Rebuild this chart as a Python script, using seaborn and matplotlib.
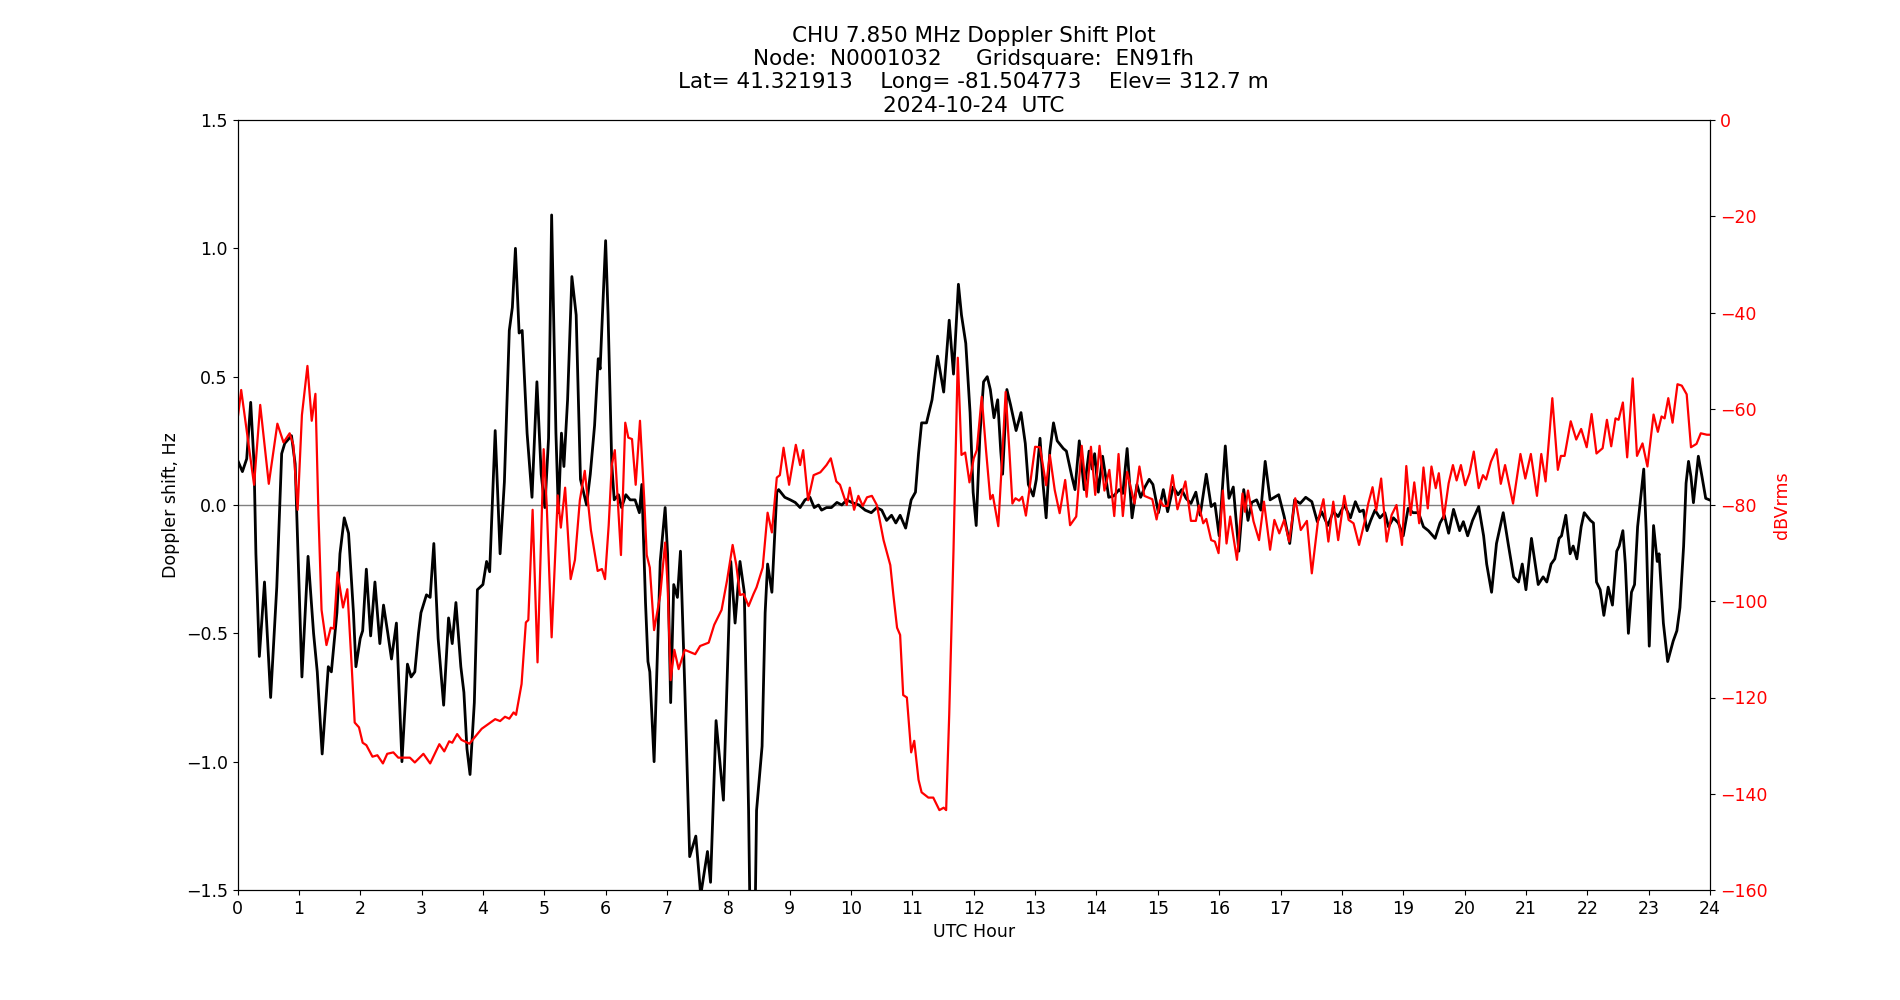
import matplotlib
matplotlib.use("Agg")
import matplotlib.pyplot as plt
import seaborn as sns
import pandas as pd

# ---- Doppler shift (black), hours and Hz ----
doppler_hours = [
    0.01, 0.08, 0.15, 0.215, 0.27, 0.30, 0.356, 0.44, 0.54, 0.64, 0.72, 0.77, 0.88, 0.94, 0.99,
    1.05, 1.15, 1.24, 1.30, 1.38, 1.48, 1.53, 1.62, 1.67, 1.74, 1.81, 1.89, 1.93, 2.00, 2.04,
    2.10, 2.17, 2.24, 2.32, 2.38, 2.45, 2.51, 2.59, 2.68, 2.77, 2.83, 2.89, 2.95, 2.99, 3.08,
    3.14, 3.20, 3.27, 3.36, 3.44, 3.50, 3.56, 3.64, 3.69, 3.74, 3.79, 3.86, 3.91, 4.00, 4.06,
    4.11, 4.20, 4.28, 4.35, 4.43, 4.48, 4.53, 4.59, 4.64, 4.72, 4.80, 4.88, 4.95, 5.01, 5.07,
    5.12, 5.19, 5.23, 5.28, 5.32, 5.38, 5.45, 5.52, 5.59, 5.69, 5.75, 5.82, 5.88, 5.91, 6.00,
    6.04, 6.10, 6.14, 6.21, 6.26, 6.33, 6.40, 6.48, 6.55, 6.59, 6.65, 6.69, 6.72, 6.79, 6.89,
    6.97, 7.01, 7.06, 7.11, 7.17, 7.22, 7.29, 7.37, 7.47, 7.55, 7.66, 7.71, 7.80, 7.92, 8.04,
    8.11, 8.19, 8.26, 8.33, 8.37, 8.42, 8.46, 8.55, 8.60, 8.64, 8.71, 8.79, 8.82, 8.92, 9.01,
    9.09, 9.17, 9.25, 9.33, 9.40, 9.47, 9.52, 9.60, 9.68, 9.77, 9.85, 9.93, 10.01, 10.13, 10.23,
    10.33, 10.42, 10.50, 10.58, 10.66, 10.73, 10.80, 10.89, 10.98, 11.05, 11.10, 11.15, 11.23,
    11.32, 11.41, 11.51, 11.60, 11.67, 11.75, 11.80, 11.87, 11.94, 11.99, 12.04, 12.10, 12.16,
    12.22, 12.27, 12.33, 12.39, 12.44, 12.47, 12.54, 12.60, 12.69, 12.77, 12.84, 12.89, 12.97,
    13.02, 13.08, 13.13, 13.18, 13.24, 13.30, 13.36, 13.46, 13.51, 13.60, 13.65, 13.72, 13.80,
    13.88, 13.93, 13.97, 14.03, 14.10, 14.20, 14.28, 14.37, 14.43, 14.50, 14.58, 14.66, 14.72,
    14.79, 14.86, 14.92, 15.01, 15.09, 15.16, 15.25, 15.33, 15.39, 15.46, 15.54, 15.62, 15.69,
    15.79, 15.87, 15.93, 16.00, 16.10, 16.16, 16.23, 16.32, 16.40, 16.47, 16.53, 16.61, 16.68,
    16.75, 16.83, 16.97, 17.06, 17.15, 17.23, 17.32, 17.41, 17.51, 17.60, 17.67, 17.77, 17.86,
    17.94, 18.04, 18.14, 18.22, 18.29, 18.35, 18.41, 18.47, 18.54, 18.62, 18.70, 18.76, 18.84,
    18.92, 19.00, 19.08, 19.16, 19.25, 19.33, 19.41, 19.52, 19.60, 19.67, 19.74, 19.82, 19.92,
    19.98, 20.05, 20.13, 20.23, 20.31, 20.36, 20.44, 20.52, 20.63, 20.71, 20.80, 20.88, 20.94,
    21.00, 21.09, 21.20, 21.28, 21.34, 21.41, 21.47, 21.54, 21.58, 21.65, 21.72, 21.77, 21.83,
    21.90, 21.95, 22.05, 22.10, 22.15, 22.21, 22.27, 22.34, 22.41, 22.48, 22.52, 22.58, 22.62,
    22.67, 22.72, 22.77, 22.82, 22.86, 22.92, 22.96, 23.01, 23.08, 23.14, 23.17, 23.24, 23.31,
    23.40, 23.46, 23.51, 23.57, 23.61, 23.65, 23.69, 23.73, 23.81, 23.87, 23.93, 23.99,
]
doppler_hz = [
    0.17, 0.13, 0.18, 0.40, 0.16, -0.19, -0.59, -0.30, -0.75, -0.32, 0.20, 0.24, 0.27, 0.16, -0.22,
    -0.67, -0.20, -0.50, -0.65, -0.97, -0.63, -0.65, -0.42, -0.19, -0.05, -0.11, -0.42, -0.63, -0.52, -0.49,
    -0.25, -0.51, -0.30, -0.54, -0.39, -0.50, -0.60, -0.46, -1.00, -0.62, -0.67, -0.65, -0.50, -0.42, -0.35,
    -0.36, -0.15, -0.52, -0.78, -0.44, -0.54, -0.38, -0.63, -0.73, -0.95, -1.05, -0.77, -0.33, -0.31, -0.22,
    -0.26, 0.29, -0.19, 0.09, 0.68, 0.77, 1.00, 0.67, 0.68, 0.28, 0.03, 0.48, 0.12, -0.01, 0.26,
    1.13, 0.28, -0.03, 0.28, 0.15, 0.41, 0.89, 0.74, 0.10, 0.00, 0.12, 0.31, 0.57, 0.53, 1.03,
    0.74, 0.16, 0.02, 0.04, -0.01, 0.04, 0.02, 0.02, -0.03, 0.08, -0.38, -0.61, -0.65, -1.00, -0.22,
    -0.01, -0.19, -0.77, -0.31, -0.36, -0.18, -0.71, -1.37, -1.29, -1.52, -1.35, -1.47, -0.84, -1.15, -0.22,
    -0.46, -0.22, -0.34, -1.19, -1.90, -1.90, -1.19, -0.94, -0.42, -0.23, -0.34, 0.05, 0.06, 0.03, 0.02,
    0.01, -0.01, 0.02, 0.03, -0.01, 0.00, -0.02, -0.01, -0.01, 0.01, 0.00, 0.02, 0.01, 0.00, -0.02,
    -0.03, -0.01, -0.02, -0.06, -0.04, -0.07, -0.04, -0.09, 0.02, 0.05, 0.20, 0.32, 0.32,
    0.41, 0.58, 0.44, 0.72, 0.51, 0.86, 0.74, 0.63, 0.36, 0.05, -0.08, 0.27, 0.48,
    0.50, 0.45, 0.34, 0.41, 0.21, 0.12, 0.45, 0.39, 0.29, 0.36, 0.24, 0.08, 0.035,
    0.10, 0.26, 0.08, -0.05, 0.21, 0.32, 0.25, 0.22, 0.21, 0.11, 0.06, 0.25, 0.06,
    0.21, 0.14, 0.20, 0.05, 0.19, 0.03, 0.035, 0.06, 0.045, 0.22, -0.05, 0.08, 0.03,
    0.07, 0.10, 0.08, -0.03, 0.06, -0.026, 0.07, 0.04, 0.06, 0.026, 0.006, 0.05, -0.04,
    0.12, -0.006, 0.006, -0.12, 0.23, 0.026, 0.07, -0.18, 0.06, -0.06, 0.01, 0.02, -0.02,
    0.17, 0.02, 0.04, -0.045, -0.15, 0.02, 0.006, 0.03, 0.013, -0.065, -0.026, -0.08, -0.026,
    -0.045, 0.0, -0.05, 0.013, -0.026, -0.02, -0.10, -0.06, -0.02, -0.05, -0.03, -0.085, -0.05,
    -0.07, -0.12, -0.013, -0.03, -0.03, -0.085, -0.10, -0.13, -0.07, -0.04, -0.11, -0.017, -0.10,
    -0.065, -0.12, -0.06, -0.006, -0.12, -0.23, -0.34, -0.15, -0.03, -0.15, -0.28, -0.30, -0.23,
    -0.33, -0.13, -0.31, -0.28, -0.30, -0.23, -0.21, -0.13, -0.12, -0.04, -0.19, -0.16, -0.21,
    -0.085, -0.03, -0.06, -0.07, -0.30, -0.33, -0.43, -0.32, -0.39, -0.18, -0.16, -0.10, -0.23,
    -0.50, -0.34, -0.31, -0.085, 0.006, 0.14, -0.10, -0.55, -0.08, -0.22, -0.19, -0.46, -0.61,
    -0.53, -0.49, -0.40, -0.16, 0.085, 0.17, 0.11, 0.009, 0.19, 0.11, 0.026, 0.02,
]

# ---- Signal level (red), hours and dBVrms ----
level_hours = [
    0.01, 0.06, 0.27, 0.37, 0.51, 0.65, 0.75, 0.85, 0.91, 0.98, 1.05, 1.14, 1.21, 1.27, 1.32,
    1.37, 1.45, 1.52, 1.57, 1.63, 1.72, 1.79, 1.86, 1.91, 1.98, 2.04, 2.10, 2.20, 2.28, 2.37,
    2.44, 2.54, 2.62, 2.71, 2.81, 2.89, 3.03, 3.14, 3.29, 3.37, 3.45, 3.50, 3.58, 3.65, 3.78,
    3.98, 4.20, 4.28, 4.36, 4.43, 4.50, 4.54, 4.63, 4.70, 4.74, 4.81, 4.89, 4.99, 5.04, 5.12,
    5.22, 5.27, 5.34, 5.43, 5.50, 5.58, 5.66, 5.76, 5.87, 5.94, 5.99, 6.05, 6.10, 6.15, 6.25,
    6.32, 6.37, 6.43, 6.49, 6.56, 6.63, 6.67, 6.72, 6.79, 6.89, 6.97, 7.01, 7.06, 7.12, 7.19,
    7.29, 7.46, 7.54, 7.68, 7.77, 7.89, 7.98, 8.07, 8.13, 8.19, 8.25, 8.33, 8.41, 8.46, 8.56,
    8.64, 8.71, 8.79, 8.84, 8.90, 8.99, 9.10, 9.17, 9.22, 9.30, 9.39, 9.50, 9.60, 9.67, 9.76,
    9.82, 9.93, 9.98, 10.05, 10.12, 10.19, 10.26, 10.34, 10.42, 10.53, 10.64, 10.69, 10.75, 10.80,
    10.85, 10.91, 10.98, 11.03, 11.10, 11.15, 11.26, 11.34, 11.44, 11.51, 11.55, 11.60, 11.67,
    11.74, 11.80, 11.86, 11.93, 12.00, 12.05, 12.13, 12.20, 12.27, 12.31, 12.40, 12.47, 12.52,
    12.58, 12.63, 12.68, 12.74, 12.79, 12.85, 12.92, 13.00, 13.08, 13.18, 13.24, 13.32, 13.40,
    13.49, 13.57, 13.67, 13.76, 13.84, 13.91, 13.98, 14.05, 14.13, 14.21, 14.29, 14.36, 14.43,
    14.50, 14.62, 14.70, 14.78, 14.91, 14.98, 15.04, 15.09, 15.16, 15.24, 15.32, 15.45, 15.54,
    15.62, 15.67, 15.74, 15.79, 15.87, 15.93, 15.99, 16.06, 16.12, 16.18, 16.29, 16.38, 16.42,
    16.47, 16.56, 16.65, 16.73, 16.83, 16.90, 16.98, 17.06, 17.14, 17.24, 17.33, 17.43, 17.51,
    17.61, 17.70, 17.78, 17.86, 17.94, 18.04, 18.11, 18.19, 18.28, 18.38, 18.43, 18.50, 18.56,
    18.64, 18.73, 18.81, 18.89, 18.98, 19.05, 19.12, 19.18, 19.26, 19.33, 19.40, 19.46, 19.53,
    19.58, 19.66, 19.74, 19.81, 19.87, 19.94, 20.01, 20.08, 20.15, 20.23, 20.30, 20.35, 20.43,
    20.52, 20.59, 20.66, 20.79, 20.91, 20.99, 21.08, 21.18, 21.25, 21.32, 21.43, 21.52, 21.57,
    21.63, 21.73, 21.82, 21.90, 21.99, 22.07, 22.15, 22.25, 22.32, 22.39, 22.46, 22.51, 22.58,
    22.65, 22.74, 22.81, 22.90, 22.98, 23.08, 23.15, 23.21, 23.26, 23.32, 23.39, 23.47, 23.54,
    23.62, 23.69, 23.78, 23.85, 23.95, 24.00,
]
level_dbv = [
    -61.3, -56.1, -75.8, -59.2, -75.6, -63.1, -67.0, -65.1, -67.5, -81.0, -61.3, -51.1, -62.5, -56.9, -82.1,
    -101.8, -109.1, -105.5, -105.7, -94.0, -101.3, -97.5, -113.2, -125.2, -126.2, -129.4, -129.9, -132.3, -132.0, -133.7,
    -131.7, -131.4, -132.5, -132.5, -132.5, -133.5, -131.7, -133.7, -129.7, -131.2, -129.1, -129.4, -127.6, -128.8, -129.6,
    -126.5, -124.5, -124.9, -124.0, -124.4, -123.1, -123.6, -117.2, -104.4, -103.9, -81.0, -112.7, -68.4, -80.0, -107.5,
    -78.0, -84.7, -76.4, -95.4, -91.4, -79.0, -72.9, -85.2, -93.7, -93.3, -95.4, -84.2, -71.7, -68.6, -90.4,
    -62.9, -66.0, -66.3, -75.8, -62.5, -79.0, -90.4, -93.0, -106.0, -98.7, -87.8, -96.6, -116.4, -110.1, -114.1,
    -110.1, -111.0, -109.3, -108.6, -104.9, -101.8, -95.6, -88.3, -92.5, -98.7, -98.5, -101.0, -98.5, -97.1, -93.0,
    -81.6, -85.7, -74.3, -73.8, -68.1, -75.8, -67.5, -71.7, -68.6, -79.0, -73.8, -73.2, -71.7, -70.3, -75.1,
    -75.8, -80.0, -76.4, -81.0, -78.1, -80.2, -78.4, -78.1, -80.0, -87.3, -92.5, -98.7, -105.5, -107.0,
    -119.5, -120.0, -131.4, -129.0, -137.1, -139.7, -140.8, -140.8, -143.4, -142.9, -143.4, -123.6, -89.4,
    -49.4, -69.6, -69.1, -75.3, -70.3, -68.6, -57.5, -68.6, -78.8, -77.9, -84.4, -68.6, -56.5,
    -68.6, -79.7, -78.6, -79.1, -78.3, -82.2, -75.5, -67.9, -68.0, -75.9, -69.6, -76.9, -81.7,
    -74.8, -84.2, -82.4, -67.7, -78.3, -67.9, -77.9, -67.7, -77.0, -72.7, -82.3, -69.4, -82.3,
    -73.1, -79.7, -72.0, -78.1, -78.8, -83.0, -79.0, -80.2, -80.2, -73.8, -80.9, -75.1, -83.3,
    -83.3, -80.1, -83.8, -82.9, -87.3, -87.6, -90.0, -77.0, -88.0, -82.4, -91.4, -77.6, -81.4,
    -77.0, -83.4, -87.3, -79.3, -89.3, -83.1, -85.9, -83.1, -87.6, -78.6, -85.2, -83.3, -94.2,
    -83.4, -78.8, -87.6, -79.3, -87.3, -78.1, -83.1, -83.8, -88.3, -83.0, -79.7, -76.3, -81.1,
    -74.5, -87.6, -82.1, -80.0, -88.3, -71.9, -82.1, -75.3, -83.8, -72.2, -80.7, -72.0, -76.5,
    -73.4, -82.8, -75.5, -71.7, -74.9, -71.7, -75.9, -73.4, -68.9, -76.5, -73.8, -74.7, -71.0,
    -68.4, -75.6, -71.7, -79.7, -69.4, -74.5, -69.4, -78.1, -69.4, -75.1, -57.8, -72.7, -69.8,
    -69.8, -62.6, -66.4, -64.2, -68.0, -61.1, -69.3, -68.2, -62.3, -67.8, -62.0, -62.3, -58.7,
    -70.1, -53.7, -69.8, -67.2, -72.0, -61.2, -64.8, -61.6, -62.0, -57.8, -62.9, -54.9, -55.2,
    -57.0, -68.0, -67.3, -65.1, -65.4, -65.4,
]

hour_ticks = list(range(0, 25))
doppler_ticks = [-1.5, -1.0, -0.5, 0.0, 0.5, 1.0, 1.5]
level_ticks = [-160, -140, -120, -100, -80, -60, -40, -20, 0]

title_lines = [
    "CHU 7.850 MHz Doppler Shift Plot",
    "Node:  N0001032     Gridsquare:  EN91fh",
    "Lat= 41.321913    Long= -81.504773    Elev= 312.7 m",
    "2024-10-24  UTC",
]

df_dop = pd.DataFrame({"hour": doppler_hours, "shift": doppler_hz})
df_lvl = pd.DataFrame({"hour": level_hours, "level": level_dbv})

plt.rcParams["font.family"] = ["DejaVu Sans"]
FS = 12.5

fig = plt.figure(figsize=(19, 10), dpi=100)
ax = fig.add_subplot(111)

ax.axhline(0, color="gray", linewidth=1.0, zorder=1)
sns.lineplot(data=df_dop, x="hour", y="shift", ax=ax, color="black",
             linewidth=2.0, sort=False, estimator=None, zorder=2)
ax.set_xlim(0, 24)
ax.set_ylim(-1.5, 1.5)
ax.set_xticks(hour_ticks)
ax.set_yticks(doppler_ticks)
ax.set_yticklabels([f"{v:.1f}".replace("-", "\u2212") for v in doppler_ticks])
ax.tick_params(labelsize=FS)
ax.set_xlabel("UTC Hour", fontsize=FS)
ax.set_ylabel("Doppler shift, Hz", fontsize=FS)
ax.set_title("\n".join(title_lines), fontsize=15.5)

ax2 = ax.twinx()
sns.lineplot(data=df_lvl, x="hour", y="level", ax=ax2, color="red",
             linewidth=1.6, sort=False, estimator=None)
ax2.set_ylim(-160, 0)
ax2.set_yticks(level_ticks)
ax2.tick_params(axis="y", labelcolor="red", labelsize=FS)
ax2.set_ylabel("dBVrms", color="red", fontsize=FS)
ax2.set_xlim(0, 24)

fig.savefig("out.png", dpi=100)
